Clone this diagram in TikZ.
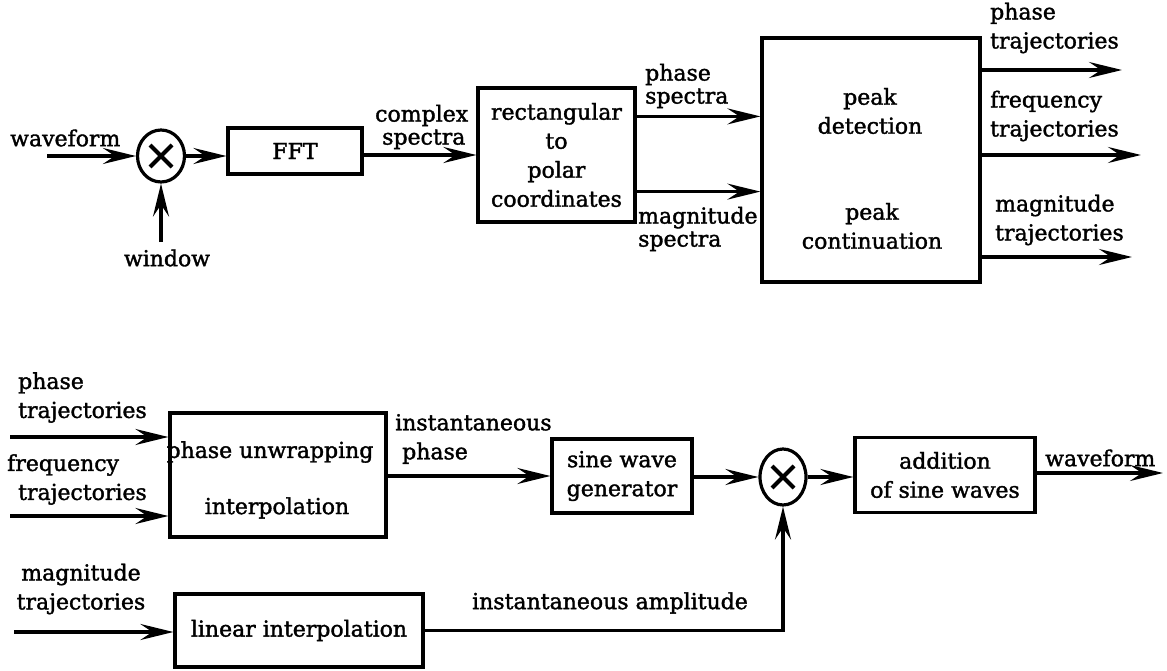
\documentclass[tikz,border=0pt]{standalone}
\usepackage{fontspec}
\setmainfont{DejaVu Serif}[FakeBold=1.6]
\usetikzlibrary{arrows.meta,shapes.geometric}
\begin{document}
\begin{tikzpicture}[x=1pt,y=-1pt,
  every node/.style={font=\fontsize{22}{29}\selectfont},
  blk/.style={draw,line width=3.2pt,inner sep=0pt,align=center},
  txt/.style={inner sep=0pt,align=left},
  tight/.style={font=\fontsize{22}{23}\selectfont},
  arr/.style={line width=3.4pt,-{Stealth[length=33pt,width=16pt,inset=12pt]}},
  mult/.style={ellipse,draw,line width=3.2pt,inner sep=0pt,
    path picture={
      \draw[line width=4pt]
        ([shift={(-11pt,-11pt)}]path picture bounding box.center) --
        ([shift={(11pt,11pt)}]path picture bounding box.center);
      \draw[line width=4pt]
        ([shift={(-11pt,11pt)}]path picture bounding box.center) --
        ([shift={(11pt,-11pt)}]path picture bounding box.center);
    }}]
\useasboundingbox (0,0) rectangle (1167,671);

% ---------- analysis ----------
\node[mult,minimum width=47pt,minimum height=52pt] (m1) at (161,156) {};
\node[blk,minimum width=134pt,minimum height=46pt] (fft) at (295,151) {FFT};
\node[blk,minimum width=157pt,minimum height=134pt] (rect) at (556.5,155)
  {rectangular\\to\\polar\\coordinates};
\node[blk,minimum width=218pt,minimum height=244pt] (peak) at (871,160) {};
\node[txt,align=center] (pd) at (870,111) {peak\\detection};
\node[txt,align=center] (pc) at (872,226) {peak\\continuation};

\node[txt,anchor=west] (lwave) at (10,138) {waveform};
\node[txt] (lwin) at (167,258) {window};
\node[txt,tight,anchor=west] (lcs) at (375,127) {complex\\\hspace*{7pt}spectra};
\node[txt,tight,anchor=west] (lps) at (645,86) {phase\\spectra};
\node[txt,tight,anchor=west] (lms) at (638,229) {magnitude\\spectra};
\node[txt,anchor=west] (lpt) at (990,28) {phase\\trajectories};
\node[txt,anchor=west] (lft) at (990,116) {frequency\\trajectories};
\node[txt,anchor=west] (lmt) at (995,220) {magnitude\\trajectories};

\coordinate (win) at (47,156);
\coordinate (wup) at (161,242);
\coordinate (po) at (1122,70);
\coordinate (fo) at (1141,155);
\coordinate (mo) at (1132,257);

\draw[arr] (win) -- (m1.west);
\draw[arr] (wup) -- (m1.south);
\draw[arr] (m1.east) -- (m1.east -| fft.west);
\draw[arr] (rect.west -| fft.east) -- (rect.west);
\draw[arr] ([yshift=-30pt]rect.north east) -- ([yshift=-30pt]rect.north east -| peak.west);
\draw[arr] ([yshift=32pt]rect.south east) -- ([yshift=32pt]rect.south east -| peak.west);
\draw[arr] (po -| peak.east) -- (po);
\draw[arr] (fo -| peak.east) -- (fo);
\draw[arr] (mo -| peak.east) -- (mo);

% ---------- synthesis ----------
\node[blk,minimum width=216pt,minimum height=124pt] (puw) at (278,475) {};
\node[txt] (tpu) at (270,452) {phase unwrapping};
\node[txt] (tin) at (277,508) {interpolation};
\node[blk,minimum width=248pt,minimum height=73pt] (lin) at (299,630.5) {linear interpolation};
\node[blk,minimum width=140pt,minimum height=74pt] (sine) at (622,476) {sine wave\\generator};
\node[mult,minimum width=46pt,minimum height=56pt] (m2) at (783,477) {};
\node[blk,minimum width=180pt,minimum height=75pt] (add) at (945,475) {addition\\of sine waves};

\node[txt,anchor=west] (lpt2) at (18,397.5) {phase\\trajectories};
\node[txt,anchor=west] (lft2) at (18,479.5) {\hspace*{-11pt}frequency\\trajectories};
\node[txt,align=center] (lmt2) at (81,589) {magnitude\\trajectories};
\node[txt,anchor=west] (lip) at (395,439) {instantaneous\\\hspace*{7pt}phase};
\node[txt] (lia) at (610,603) {instantaneous amplitude};
\node[txt,anchor=west] (lwo) at (1045,458) {waveform};

\coordinate (pi) at (10,437);
\coordinate (fi) at (10,516);
\coordinate (mi) at (14,632);
\coordinate (wo) at (1163,473);

\draw[arr] (pi) -- (pi -| puw.west);
\draw[arr] (fi) -- (fi -| puw.west);
\draw[arr] (mi) -- (mi -| lin.west);
\draw[arr] (sine.west -| puw.east) -- (sine.west);
\draw[arr] (m2.west -| sine.east) -- (m2.west);
\draw[arr] (m2.east) -- (m2.east -| add.west);
\draw[arr] (wo -| add.east) -- (wo);
\draw[arr] (lin.east) -- (lin.east -| m2.south) -- (m2.south);
\end{tikzpicture}
\end{document}
